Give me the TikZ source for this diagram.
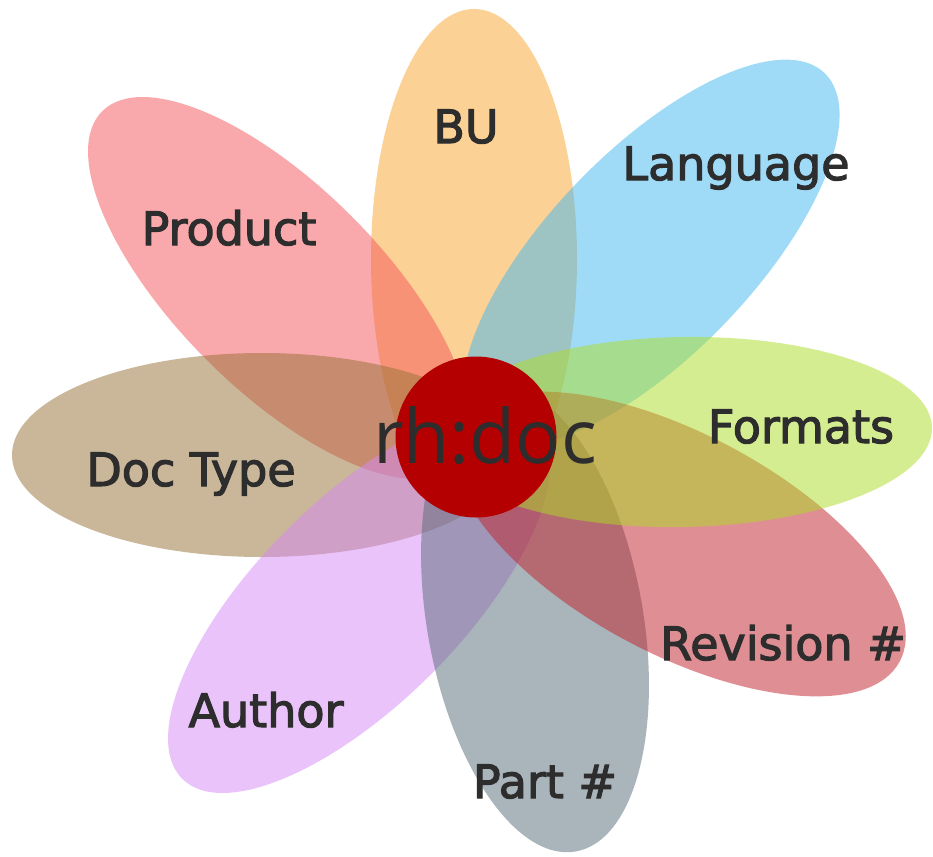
\documentclass[tikz,border=0pt]{standalone}
\usepackage{fontspec}
\setmainfont{DejaVu Sans}
\newfontfamily\lblfont{DejaVu Sans}[FakeBold=2.5]
\newfontfamily\hubfont{Open Sans}
\usetikzlibrary{shapes.geometric}

% petal base colours, shown at half opacity
\definecolor{cBU}{RGB}{249,165,45}
\definecolor{cLang}{RGB}{65,185,241}
\definecolor{cForm}{RGB}{173,221,37}
\definecolor{cRev}{RGB}{193,33,41}
\definecolor{cPart}{RGB}{87,107,121}
\definecolor{cAuth}{RGB}{213,137,245}
\definecolor{cDoc}{RGB}{151,113,53}
\definecolor{cProd}{RGB}{245,85,91}
\definecolor{hubred}{RGB}{180,0,0}
\definecolor{ink}{RGB}{45,45,45}

\begin{document}
\begin{tikzpicture}[x=1pt,y=-1pt,
  petal/.style={ellipse, draw=none, fill=#1, fill opacity=0.5,
    minimum width=500pt, minimum height=204pt, inner sep=0pt, outer sep=0pt},
  lbl/.style={text=ink, font=\lblfont\fontsize{46}{46}\selectfont, inner sep=0pt, anchor=base},
  hub/.style={circle, fill=hubred, minimum size=161pt, inner sep=0pt},
]
\useasboundingbox (0,0) rectangle (933,856);
\fill[white] (0,0) rectangle (933,856);

% petals, back to front
\node[petal=cBU,   rotate=90, minimum height=206pt] (pBU) at (474,259) {};
\node[petal=cLang, rotate=46]  (pLang) at (651,253) {};
\node[petal=cProd, rotate=135] (pProd) at (279,288) {};
\node[petal=cDoc,  rotate=0]   (pDoc)  at (262,455) {};
\node[petal=cAuth, rotate=225] (pAuth) at (359,602) {};
\node[petal=cPart, rotate=280, minimum width=470pt, minimum height=216pt] (pPart) at (535,620) {};
\node[petal=cRev,  rotate=-28, minimum height=220pt] (pRev) at (679,544) {};
\node[petal=cForm, rotate=1,   minimum height=190pt] (pForm) at (682,432) {};

% centre disc
\node[hub] (hub) at (476,437) {};
\node[text=ink, font=\hubfont\fontsize{75}{75}\selectfont, inner sep=0pt, anchor=base]
  (hubtext) at (485,463) {rh:doc};

% petal labels
\node[lbl] (tBU)   at (466,143) {BU};
\node[lbl] (tLang) at (736,180) {Language};
\node[lbl] (tProd) at (229,245) {Product};
\node[lbl] (tForm) at (801,443) {Formats};
\node[lbl] (tDoc)  at (191,486) {Doc Type};
\node[lbl] (tRev)  at (783,660) {Revision \#};
\node[lbl] (tAuth) at (266,727) {Author};
\node[lbl] (tPart) at (545,798) {Part \#};
\end{tikzpicture}
\end{document}
